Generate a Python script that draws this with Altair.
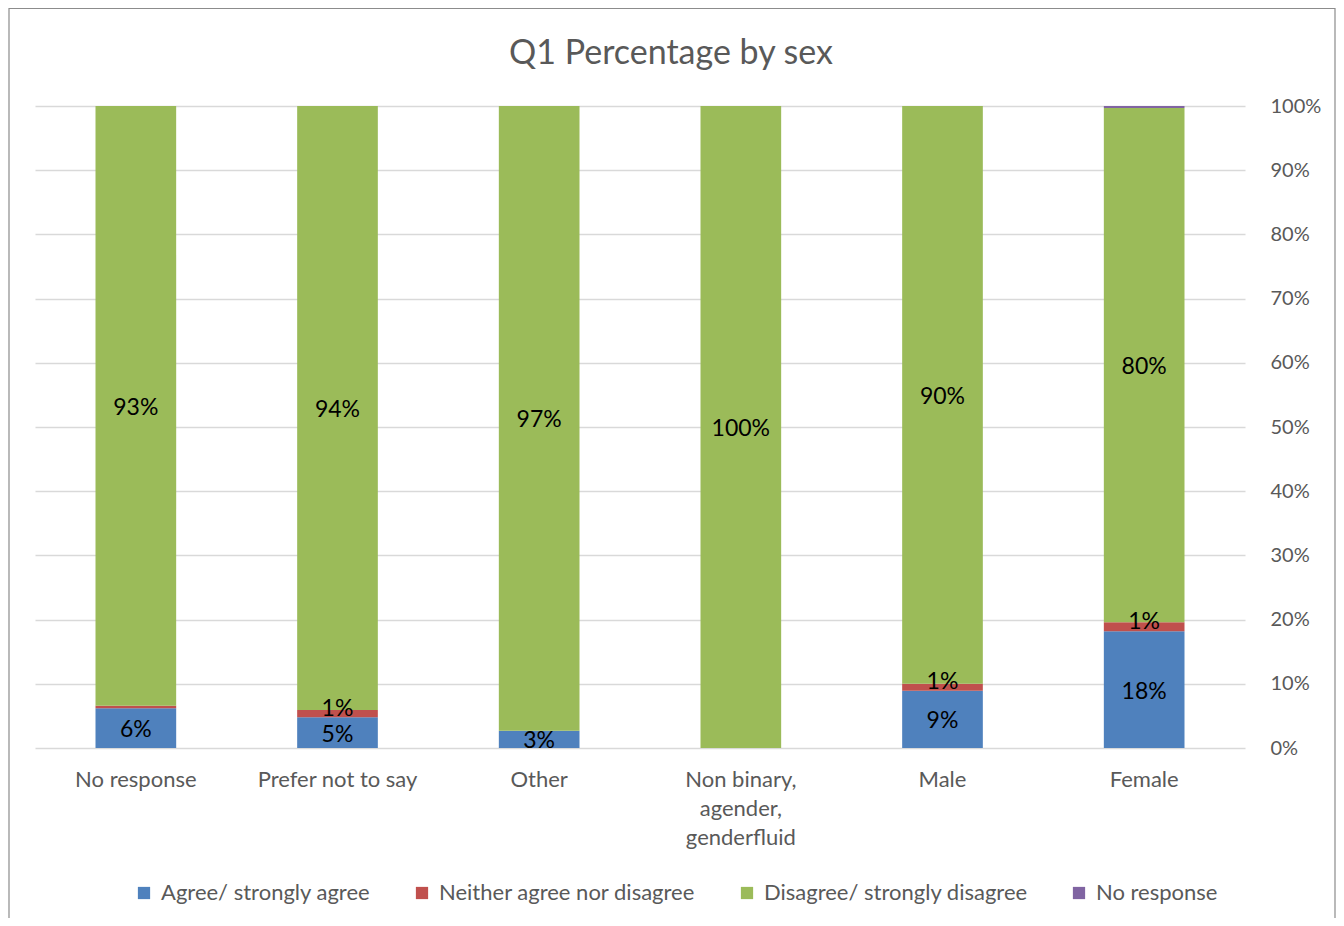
import altair as alt
import pandas as pd

categories = ["No response", "Prefer not to say", "Other",
              "Non binary, agender, genderfluid", "Male", "Female"]
series = ["Agree/ strongly agree", "Neither agree nor disagree",
          "Disagree/ strongly disagree", "No response"]
agree = [6.2, 4.8, 2.7, 0.0, 8.9, 18.2]
neither = [0.4, 1.1, 0.0, 0.0, 1.1, 1.4]
disagree = [93.4, 94.1, 97.3, 100.0, 90.0, 80.1]
no_resp = [0.0, 0.0, 0.0, 0.0, 0.0, 0.3]
colors = ["#4F81BD", "#C0504D", "#9BBB59", "#8064A2"]
y_ticks = list(range(0, 101, 10))

rows = []
for i, c in enumerate(categories):
    for j, (s, vals) in enumerate(zip(series, [agree, neither, disagree, no_resp])):
        rows.append({"cat": c, "series": s, "sidx": j, "value": vals[i]})
df = pd.DataFrame(rows)

FONT = "Lato"
GREY = "#595959"

base = alt.Chart(df)

x_enc = alt.X(
    "cat:N", sort=categories, title=None,
    scale=alt.Scale(paddingInner=0.6, paddingOuter=0.3),
    axis=alt.Axis(
        orient="bottom", domain=False, ticks=False, labelAngle=0,
        labelPadding=21, labelFont=FONT, labelFontSize=22, labelColor=GREY,
        labelLineHeight=29, labelBaseline="top", labelLimit=400,
        labelExpr="datum.value == 'Non binary, agender, genderfluid' ? ['Non binary,', 'agender,', 'genderfluid'] : datum.label",
    ),
)

bars = base.mark_bar().encode(
    x=x_enc,
    y=alt.Y(
        "value:Q", stack="zero", title=None,
        scale=alt.Scale(domain=[0, 100], nice=False),
        axis=alt.Axis(
            orient="right", values=y_ticks, domain=False, ticks=False,
            labelExpr="datum.value + '%'", labelPadding=25,
            labelFont=FONT, labelFontSize=20, labelColor=GREY,
            gridColor="#d9d9d9", gridWidth=1.5,
        ),
    ),
    color=alt.Color(
        "series:N", sort=series,
        scale=alt.Scale(domain=series, range=colors),
        legend=alt.Legend(
            title=None, orient="none", direction="horizontal",
            legendX=98, legendY=776, symbolType="square", symbolSize=150,
            symbolStrokeWidth=0, labelFont=FONT, labelFontSize=22,
            labelColor=GREY, columnPadding=40, labelOffset=6, labelLimit=0,
        ),
    ),
    order=alt.Order("sidx:Q", sort="ascending"),
)

stacked = base.transform_stack(
    stack="value", groupby=["cat"], sort=[alt.SortField("sidx", order="ascending")],
    as_=["y0", "y1"],
).transform_calculate(
    mid="(datum.y0 + datum.y1) / 2",
    txt="round(datum.value) + '%'",
).transform_filter("datum.value >= 0.5")

label_enc = dict(
    x=alt.X("cat:N", sort=categories),
    y=alt.Y("mid:Q"),
    text="txt:N",
)

labels_main = stacked.transform_filter("datum.sidx != 1").mark_text(
    font=FONT, fontSize=23, color="black", baseline="middle", dy=2
).encode(**label_enc)

labels_small = stacked.transform_filter("datum.sidx == 1").mark_text(
    font=FONT, fontSize=23, color="black", baseline="middle", dy=-5
).encode(**label_enc)

frame = alt.Chart(pd.DataFrame({"a": [0]})).mark_rect(
    fill=None, stroke="#8c8c8c", strokeWidth=1.2, clip=False
).encode(
    x=alt.value(-26), x2=alt.value(1300), y=alt.value(-97.5), y2=alt.value(830)
)

chart = alt.layer(frame, bars, labels_main, labels_small).properties(
    width=1210, height=642,
    padding={"left": 27, "top": 98, "right": 91, "bottom": 170},
    autosize=alt.AutoSizeParams(type="none"),
    title=alt.TitleParams(
        "Q1 Percentage by sex", font=FONT, fontSize=34, fontWeight="normal",
        color=GREY, anchor="middle", frame="group", dx=31, offset=40, dy=103,
    ),
).configure(background="white").configure_view(strokeWidth=0)

chart.save("out.html", embed_options={"renderer": "svg", "actions": False})
